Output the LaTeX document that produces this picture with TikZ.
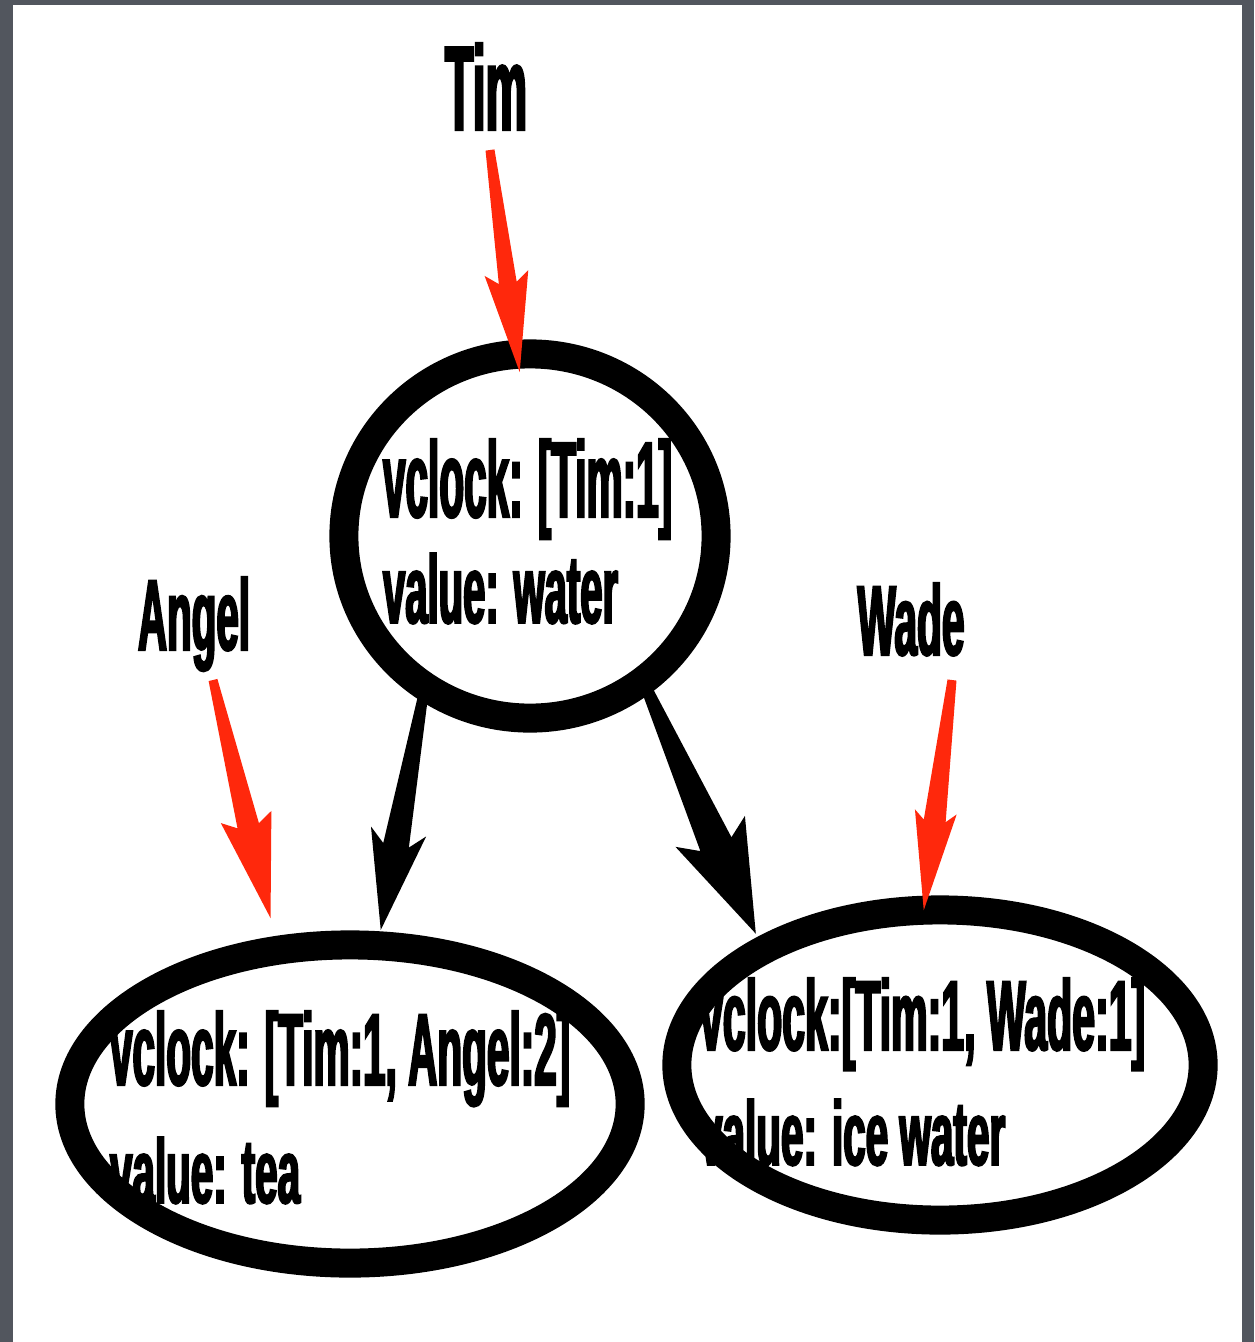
\documentclass[tikz,border=0pt]{standalone}
\usepackage{fontspec}
\usepackage{graphicx}
\usetikzlibrary{calc,shapes.geometric}

% condensed heavy sans for all labels
\newfontfamily\lblfont[FakeStretch=0.42,FakeBold=2]{Liberation Sans Bold}

\definecolor{pagegray}{HTML}{52565E}
\definecolor{pointer}{RGB}{255,40,12}

% text fitted to a given width and height
\newcommand{\fittext}[3]{\resizebox{#1}{#2}{\fontsize{30pt}{30pt}\selectfont\lblfont #3}}

% tapered arrow: colour, start, tip, half width at start, half width at neck,
% neck distance from tip, barb distance from tip, barb half width
\newcommand{\taperarrow}[8]{%
  \path ($(#3)!#6!(#2)$) coordinate (nk) ($(#3)!#7!(#2)$) coordinate (bb);
  \fill[#1] ($(#2)!#4!90:(#3)$) -- ($(nk)!#5!90:(#3)$) -- ($(bb)!#8!90:(#3)$) -- (#3)
    -- ($(bb)!#8!-90:(#3)$) -- ($(nk)!#5!-90:(#3)$) -- ($(#2)!#4!-90:(#3)$) -- cycle;}

\begin{document}
\begin{tikzpicture}[x=0.01cm,y=-0.01cm,
  ring/.style={ellipse, draw=black, line width=0.29cm, inner sep=0pt, outer sep=0pt},
  lbl/.style={inner sep=0pt, outer sep=0pt}]
\useasboundingbox (0,0) rectangle (1254,1342);
\fill[pagegray] (0,0) rectangle (1254,1342);
\fill[white] (13,5) rectangle (1242,1342);

% versions
\node[ring, minimum width=3.72cm, minimum height=3.64cm] (top) at (530,536) {};
\node[ring, minimum width=5.60cm, minimum height=3.18cm] (bl) at (350,1104) {};
\node[ring, minimum width=5.26cm, minimum height=3.10cm] (br) at (940,1065) {};

% actors
\node[lbl, anchor=base] (tim) at (486,130) {\fittext{0.82cm}{0.87cm}{Tim}};
\node[lbl, anchor=base] (angel) at (194,650) {\fittext{1.12cm}{0.73cm}{Angel}};
\node[lbl, anchor=base] (wade) at (911,655) {\fittext{1.07cm}{0.72cm}{Wade}};

% descendant edges
\coordinate (lS) at (top.235);
\coordinate (lT) at ($(bl.80)!0.16cm!(lS)$);
\taperarrow{black}{lS}{lT}{0.045cm}{0.13cm}{0.86cm}{1.00cm}{0.28cm}
\coordinate (rS) at (top.308);
\coordinate (rT) at ($(br.147)!0.18cm!(rS)$);
\taperarrow{black}{rS}{rT}{0.05cm}{0.17cm}{0.98cm}{1.12cm}{0.38cm}

% actor pointers
\coordinate (timS) at ($(tim.base)+(4,20)$);
\coordinate (timT) at ($(top.94)!-0.18cm!(timS)$);
\taperarrow{pointer}{timS}{timT}{0.045cm}{0.09cm}{0.90cm}{1.00cm}{0.22cm}
\coordinate (angS) at ($(angel.base)+(19,30)$);
\coordinate (angT) at ($(bl.115)!0.33cm!(angS)$);
\taperarrow{pointer}{angS}{angT}{0.045cm}{0.11cm}{0.95cm}{1.04cm}{0.26cm}
\coordinate (wadeS) at ($(wade.base)+(41,25)$);
\coordinate (wadeT) at (br.96);
\taperarrow{pointer}{wadeS}{wadeT}{0.045cm}{0.11cm}{0.90cm}{0.99cm}{0.21cm}

% version contents
\node[lbl, anchor=base west] (t1) at (383,517) {\fittext{2.89cm}{0.78cm}{vclock: [Tim:1]}};
\node[lbl, anchor=base west] (t2) at (383,623) {\fittext{2.35cm}{0.70cm}{value: water}};
\node[lbl, anchor=base west] (a1) at (110,1085) {\fittext{4.60cm}{0.74cm}{vclock: [Tim:1, Angel:2]}};
\node[lbl, anchor=base west] (a2) at (110,1203) {\fittext{1.90cm}{0.66cm}{value: tea}};
\node[lbl, anchor=base west] (w1) at (700,1050) {\fittext{4.45cm}{0.72cm}{vclock:[Tim:1, Wade:1]}};
\node[lbl, anchor=base west] (w2) at (700,1165) {\fittext{3.05cm}{0.66cm}{value: ice water}};
\end{tikzpicture}
\end{document}
